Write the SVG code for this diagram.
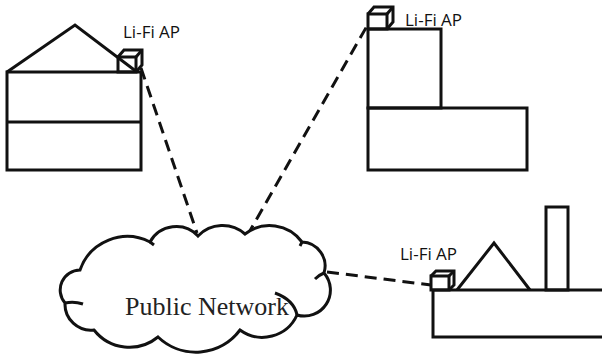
<svg xmlns="http://www.w3.org/2000/svg" width="602" height="355" viewBox="0 0 602 355">
  <style>
    .ln { fill: none; stroke: #111; stroke-width: 3; stroke-linejoin: miter; }
    .box { fill: #fff; stroke: #111; stroke-width: 3; }
    .link { fill: none; stroke: #111; stroke-width: 3; stroke-dasharray: 12 7; }
    .lbl { font-family: "Open Sans", "Liberation Sans", sans-serif; font-size: 17px; fill: #111; }
    .net { font-family: "Liberation Serif", "Times New Roman", serif; font-size: 26px; fill: #222; }
  </style>

  <!-- links to the public network -->
  <g id="connectors">
    <line class="link" x1="141" y1="68" x2="197" y2="233"/>
    <line class="link" x1="247" y1="236" x2="367" y2="26"/>
    <line class="link" x1="327" y1="272" x2="431" y2="285"/>
  </g>

  <!-- house with an access point on the roof -->
  <g id="house">
    <rect class="ln" x="7" y="72" width="134" height="98"/>
    <line class="ln" x1="7" y1="122" x2="141" y2="122"/>
    <polyline class="ln" points="7,72 75,25 137,72"/>
    <g id="ap-house" class="ln">
      <rect x="118" y="57" width="18" height="15"/>
      <polyline points="118,57 124,50 142,50 142,65 136,72"/>
      <line x1="136" y1="57" x2="142" y2="50"/>
    </g>
    <text class="lbl" x="123" y="38">Li-Fi AP</text>
  </g>

  <!-- office block -->
  <g id="office">
    <rect class="ln" x="368" y="29" width="73" height="79"/>
    <rect class="ln" x="368" y="108" width="159" height="62"/>
    <g id="ap-office" class="ln">
      <rect x="368" y="14" width="19" height="15"/>
      <polyline points="368,14 374,7 393,7 393,22 387,29"/>
      <line x1="387" y1="14" x2="393" y2="7"/>
    </g>
    <text class="lbl" x="405" y="26">Li-Fi AP</text>
  </g>

  <!-- factory -->
  <g id="factory">
    <rect class="ln" x="433" y="290" width="180" height="47"/>
    <polyline class="ln" points="457,290 494,243 530,290"/>
    <rect class="ln" x="546" y="207" width="22" height="83"/>
    <g id="ap-factory" class="ln">
      <rect x="431" y="276" width="18" height="14"/>
      <polyline points="431,276 436,271 454,271 454,285 449,290"/>
      <line x1="449" y1="276" x2="454" y2="271"/>
    </g>
    <text class="lbl" x="400" y="260">Li-Fi AP</text>
  </g>

  <!-- public network cloud -->
  <g id="cloud">
    <path class="ln" fill="#fff" d="M80,270 A50,50 0 0 1 150,242 A30,30 0 0 1 198,236 A34,34 0 0 1 245,234 A40,40 0 0 1 302,242 A24,24 0 0 1 324,273 A26,26 0 0 1 297,315 A38,38 0 0 1 240,330 A55,55 0 0 1 158,337 A45,45 0 0 1 94,330 A26,26 0 0 1 65,303 A20,20 0 0 1 80,270 Z" style="fill:#fff"/>
    <path class="ln" d="M65,303 Q74,301 83,304"/>
    <path class="ln" d="M324,273 Q319,275 315,279"/>
    <path class="ln" d="M275,293 Q294,300 297,315"/>
    <path class="ln" d="M150,242 L154,245"/>
    <path class="ln" d="M302,242 L300,246"/>
    <text class="net" x="125" y="315">Public Network</text>
  </g>
</svg>
